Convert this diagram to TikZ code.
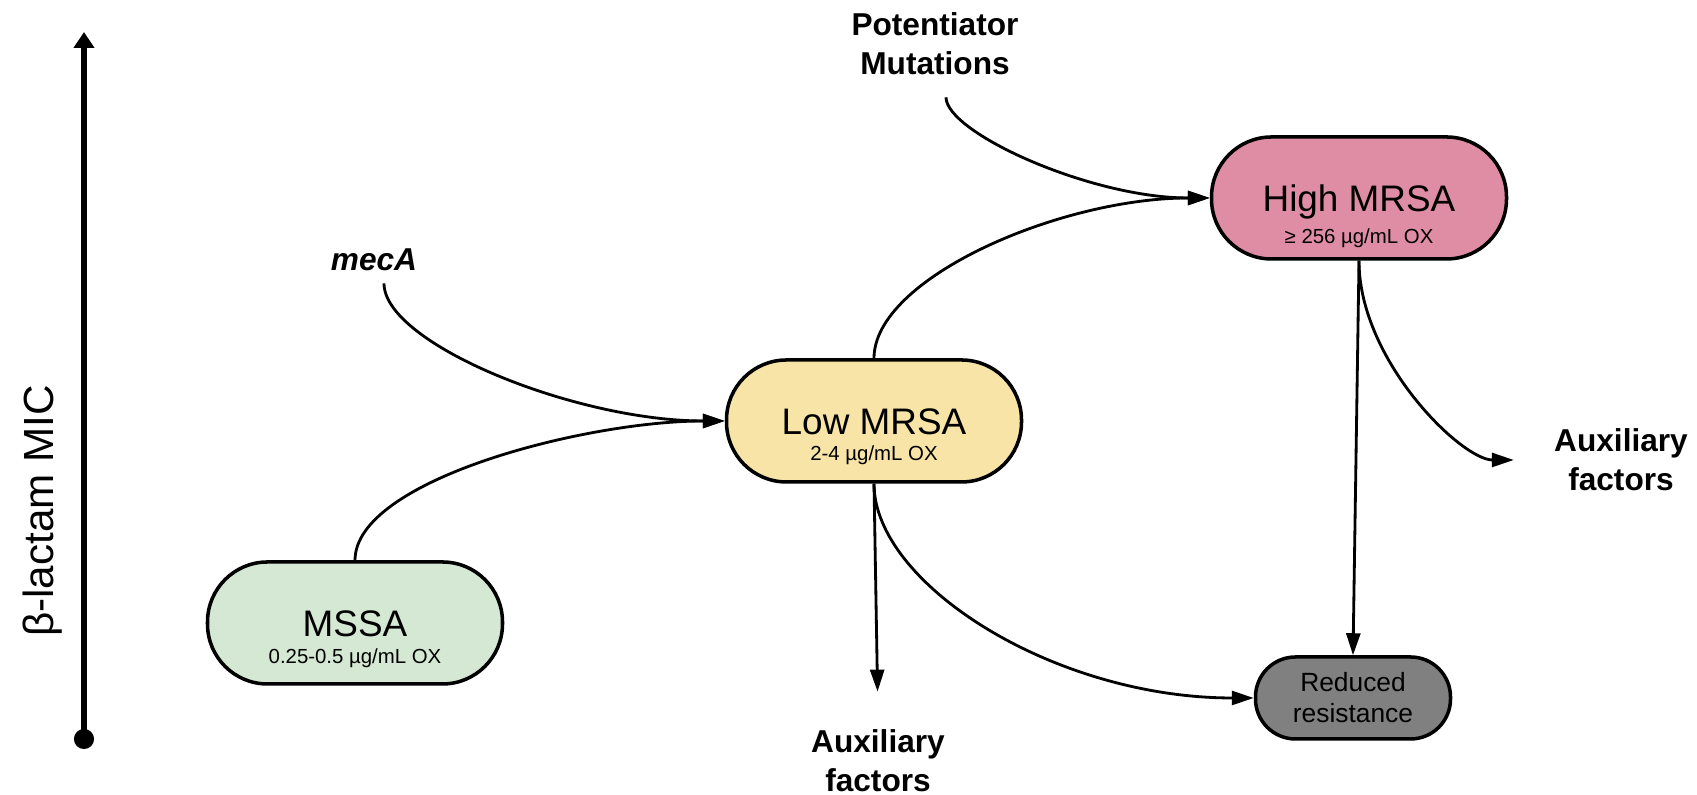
\documentclass[tikz,border=0pt]{standalone}
\usepackage{fontspec}
\setmainfont{Liberation Sans}
\usepackage{xcolor}
\usetikzlibrary{arrows.meta}

\definecolor{mssagreen}{HTML}{D5E8D4}
\definecolor{lowyellow}{HTML}{F7E4A6}
\definecolor{highpink}{HTML}{DE8DA4}
\definecolor{redgray}{HTML}{808080}

\begin{document}
\begin{tikzpicture}[
    pill/.style={draw, line width=1pt},
    box/.style={pill, rounded corners=6mm, minimum width=2.95cm, minimum height=1.22cm,
                text height=2.7mm, text depth=0mm, font=\fontsize{10.5}{12}\selectfont},
    oxval/.style={font=\fontsize{5.8}{7}\selectfont, inner sep=0pt},
    tag/.style={font=\fontsize{9}{11}\selectfont\bfseries, align=center},
    link/.style={line width=0.8pt, -{Triangle[length=2.2mm,width=1.4mm]}},
]
\useasboundingbox (0,0) rectangle (16.97,7.95);

% MIC axis
\draw[line width=1.7pt, {Circle[length=2mm]}-{Triangle[length=1.6mm,width=2mm]}] (0.84,0.46) -- (0.84,7.63);
\node[rotate=90, font=\fontsize{12}{14}\selectfont] (mic) at (0.43,2.84) {β-lactam MIC};

% strains
\node[box, fill=mssagreen] (mssa) at (3.55,1.72) {MSSA};
\node[oxval] (mssaox) at ([yshift=-3.5mm]mssa.center) {0.25-0.5 µg/mL OX};
\node[box, fill=lowyellow] (low) at (8.74,3.74) {Low MRSA};
\node[oxval] (lowox) at ([yshift=-3.4mm]low.center) {2-4 µg/mL OX};
\node[box, fill=highpink] (high) at (13.59,5.97) {High MRSA};
\node[oxval] (highox) at ([yshift=-4mm]high.center) {≥ 256 µg/mL OX};
\node[pill, fill=redgray, rounded corners=4mm, minimum width=1.95cm, minimum height=0.82cm,
      align=center, font=\fontsize{7.5}{8.8}\selectfont] (red) at (13.53,0.97) {Reduced\\resistance};

% labels
\node[tag] (mecA) at (3.74,5.35) {\itshape mecA};
\node[tag] (pot) at (9.35,7.51) {Potentiator\\Mutations};
\node[tag] (auxlow) at (8.78,0.34) {Auxiliary\\factors};
\node[tag] (auxhigh) at (16.21,3.35) {Auxiliary\\factors};

% arrows
\draw[link] ([xshift=1mm]mecA.south) .. controls +(0,-0.6) and +(-1.5,0) .. (low.west);
\draw[link] (mssa.north) .. controls +(0,0.8) and +(-1.4,0) .. (low.west);
\draw[link] (low.north) .. controls +(0,0.8) and +(-1.5,0) .. (high.west);
\draw[link, shorten <=1mm] ([xshift=1.1mm]pot.south) .. controls +(0,-0.45) and +(-1.2,0) .. (high.west);
\draw[link, shorten >=2.6mm] (low.south) -- (auxlow.north);
\draw[link] (low.south) .. controls +(0,-1) and +(-2,0) .. (red.west);
\draw[link] (high.south) -- (red.north);
\draw[link, shorten >=2.8mm] (high.south) .. controls +(0,-1) and +(-0.8,0) .. (auxhigh.west);
\end{tikzpicture}
\end{document}
